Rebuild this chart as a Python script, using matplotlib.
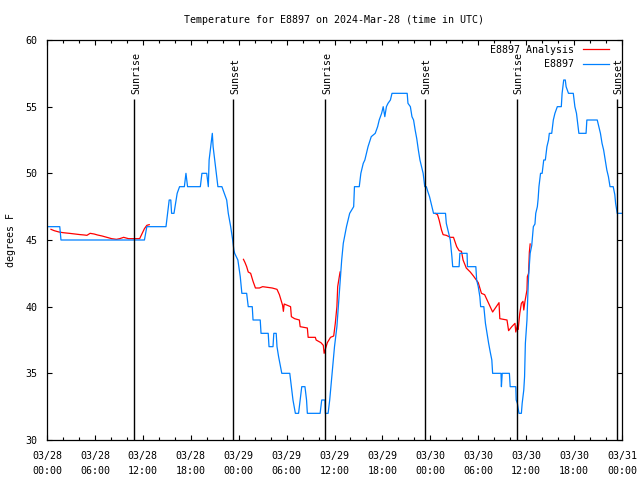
import matplotlib
matplotlib.use('Agg')
import matplotlib.pyplot as plt

# Du lieu doc tu anh (gio ke tu 03/28 00:00 UTC)
obs_hours = [0.15, 1.6, 1.75, 12.2, 12.5, 14.9, 15.1, 15.3, 15.5, 15.6, 15.9, 16.1, 16.3, 16.6, 17.2, 17.4, 17.6,
             19.2, 19.4, 20.0, 20.2, 20.3, 20.5, 20.7, 20.8, 21.0, 21.2, 21.4, 21.9, 22.2, 22.5, 22.7, 23.0, 23.25,
             23.4, 23.5, 23.9, 24.2, 24.4, 25.0, 25.2, 25.7, 25.8, 26.7, 26.8, 27.7, 27.8, 28.3, 28.4, 28.7, 28.8,
             29.0, 29.4, 30.4, 30.6, 30.8, 31.1, 31.5, 31.7, 31.9, 32.3, 32.5, 32.6, 34.2, 34.4, 34.8, 34.85, 35.2,
             35.4, 35.7, 36.0, 36.3, 36.6, 36.9, 37.1, 37.5, 37.9, 38.4, 38.5, 39.1, 39.3, 39.6, 39.8, 40.2, 40.6,
             41.1, 41.4, 41.6, 41.9, 42.1, 42.3, 42.5, 42.7, 43.0, 43.2, 45.1, 45.2, 45.5, 45.7, 45.9, 46.1, 46.3,
             46.5, 46.7, 47.1, 47.3, 47.5, 47.7, 47.9, 48.1, 48.4, 49.9, 50.0, 50.2, 50.5, 50.7, 50.8, 51.6, 51.7,
             52.6, 52.65, 53.7, 53.8, 54.0, 54.2, 54.3, 54.7, 54.9, 55.1, 55.3, 55.5, 55.7, 55.8, 56.85, 56.9, 57.0,
             57.9, 58.0, 58.7, 58.75, 58.9, 59.1, 59.4, 59.5, 59.7, 59.8, 59.9, 60.1, 60.2, 60.3, 60.5, 60.7, 60.9,
             61.1, 61.2, 61.4, 61.5, 61.6, 61.8, 62.0, 62.2, 62.4, 62.6, 62.8, 62.9, 63.2, 63.4, 63.6, 63.9, 64.4,
             64.5, 64.7, 64.9, 65.0, 65.3, 65.9, 66.1, 66.3, 66.5, 66.6, 67.5, 67.6, 68.9, 69.1, 69.3, 69.5, 69.7,
             69.9, 70.1, 70.3, 70.5, 70.9, 71.1, 71.2, 71.4, 72.0]
obs_temps = [46, 46, 45, 45, 46, 46, 47, 48, 48, 47, 47, 47.75, 48.5, 49, 49, 50, 49,
             49, 50, 50, 49, 51, 52, 53, 52, 51, 50, 49, 49, 48.5, 48, 47, 46, 45,
             44.25, 44, 43.5, 42.25, 41, 41, 40, 40, 39, 39, 38, 38, 37, 37, 38, 38, 37,
             36.25, 35, 35, 34, 33, 32, 32, 33, 34, 34, 33, 32, 32, 33, 33, 32, 32,
             33, 35, 37, 38.5, 41, 43.5, 44.75, 46, 47, 47.5, 49, 49, 50, 50.75, 51, 52, 52.75,
             53, 53.5, 54, 54.5, 55, 54.25, 55, 55.25, 55.5, 56, 56, 55.25, 55, 54.25, 54, 53.25, 52.6,
             51.75, 51, 50, 49, 49, 48.6, 48.25, 47.75, 47, 47, 46.25, 45.75, 45, 43.75, 43, 43, 44,
             44, 43, 43, 42, 41.5, 40.75, 40, 40, 38.75, 38, 37.25, 36.6, 36, 35, 35, 34, 35,
             35, 34, 34, 33, 32.75, 32, 32, 32.75, 33.75, 34.75, 37.25, 39, 40.75, 42.25, 44, 44.6, 46,
             46.2, 47, 47.5, 48.1, 49, 50, 50, 51, 51, 52, 52.5, 53, 53, 54, 54.5, 55, 55,
             56, 57, 57, 56.5, 56, 56, 55, 54.5, 53.5, 53, 53, 54, 54, 53.5, 53, 52.25, 51.75,
             51, 50.25, 49.75, 49, 49, 48.4, 47.75, 47, 47]

ana1_hours = [0.5, 0.9, 1.5, 2.0, 2.8, 3.5, 4.2, 4.6, 5.0, 5.4, 5.9, 6.3, 6.9, 7.5, 8.1, 8.7, 9.1, 9.6,
              10.2, 11.0, 11.6, 11.8, 12.0, 12.2, 12.5, 12.8]
ana1_temps = [45.8, 45.7, 45.6, 45.55, 45.5, 45.45, 45.4, 45.38, 45.35, 45.5, 45.45, 45.38, 45.3, 45.2,
              45.1, 45.05, 45.1, 45.2, 45.1, 45.1, 45.1, 45.35, 45.6, 45.85, 46.1, 46.15]
ana2_hours = [24.6, 24.8, 25.0, 25.2, 25.5, 25.8, 26.1, 26.6, 27.0, 27.6, 28.2, 28.8, 29.1, 29.5, 29.6,
              29.7, 30.5, 30.6, 31.0, 31.6, 31.7, 32.6, 32.7, 33.6, 33.7, 34.3, 34.6, 34.7, 34.9, 35.1,
              35.5, 35.9, 36.1, 36.3, 36.4, 36.6, 36.7]
ana2_temps = [43.55, 43.3, 43.0, 42.6, 42.5, 41.9, 41.4, 41.4, 41.5, 41.45, 41.4, 41.3, 40.9, 40.1, 39.65,
              40.2, 40.0, 39.25, 39.1, 39.0, 38.5, 38.4, 37.7, 37.7, 37.5, 37.3, 37.1, 36.5, 36.9, 37.3,
              37.7, 37.8, 38.75, 40.0, 41.5, 42.25, 42.6]
ana3_hours = [48.6, 48.9, 49.1, 49.4, 49.6, 50.0, 50.5, 50.9, 51.3, 51.6, 51.9, 52.1, 52.5, 53.0, 53.4,
              53.7, 54.0, 54.4, 54.8, 55.3, 55.8, 56.6, 56.7, 57.6, 57.8, 58.2, 58.6, 58.7, 58.9, 59.0,
              59.2, 59.4, 59.6, 59.7, 59.85, 60.1, 60.15, 60.3, 60.4, 60.5]
ana3_temps = [47.0, 46.9, 46.5, 45.75, 45.4, 45.35, 45.2, 45.2, 44.5, 44.2, 44.15, 43.5, 42.9, 42.6, 42.3,
              42.05, 41.8, 41.0, 40.9, 40.25, 39.6, 40.3, 39.1, 39.0, 38.2, 38.5, 38.75, 38.1, 38.6, 38.3,
              39.5, 40.25, 40.4, 39.75, 40.4, 41.25, 42.25, 42.5, 44.1, 44.7]

sun_hours = [10.9, 23.3, 34.8, 47.3, 58.8, 71.35]
sun_labels = ['Sunrise', 'Sunset', 'Sunrise', 'Sunset', 'Sunrise', 'Sunset']

tick_hours = list(range(0, 73, 6))
tick_labels = ['03/28\n00:00', '03/28\n06:00', '03/28\n12:00', '03/28\n18:00',
               '03/29\n00:00', '03/29\n06:00', '03/29\n12:00', '03/29\n18:00',
               '03/30\n00:00', '03/30\n06:00', '03/30\n12:00', '03/30\n18:00', '03/31\n00:00']

fs = 7.2
plt.rcParams['font.family'] = ['DejaVu Sans Mono']
plt.rcParams['font.size'] = fs

fig = plt.figure(figsize=(6.4, 4.8), dpi=100)
ax = fig.add_axes([47 / 640, 40 / 480, 575 / 640, 400 / 480])

red = '#ff0000'
blue = '#0080ff'
ax.plot(ana1_hours, ana1_temps, color=red, lw=0.9, label='E8897 Analysis')
ax.plot(ana2_hours, ana2_temps, color=red, lw=0.9)
ax.plot(ana3_hours, ana3_temps, color=red, lw=0.9)
ax.plot(obs_hours, obs_temps, color=blue, lw=0.9, label='E8897')

# Duong mat troi moc / lan
for h, lab in zip(sun_hours, sun_labels):
    ax.vlines(h, 30, 55.6, color='black', lw=1.0)
    ax.text(h + 0.25, 55.95, lab, rotation=90, ha='center', va='bottom', fontsize=fs)

ax.set_xlim(0, 72)
ax.set_ylim(30, 60)
ax.set_xticks(tick_hours)
ax.set_xticklabels(tick_labels, linespacing=1.55)
ax.set_xticks(range(0, 73, 2), minor=True)
ax.set_yticks(range(30, 61, 5))
ax.tick_params(which='both', direction='in', top=True, right=True, width=0.8)
ax.tick_params(which='major', length=3.5)
ax.tick_params(which='minor', length=2)
ax.tick_params(axis='x', pad=8)
ax.tick_params(axis='y', pad=7)
for s in ax.spines.values():
    s.set_linewidth(0.9)

ax.set_ylabel('degrees F', labelpad=7)
fig.text(334 / 640, 1 - 20 / 480, 'Temperature for E8897 on 2024-Mar-28 (time in UTC)',
         ha='center', va='center', fontsize=fs)

ax.legend(loc='upper right', bbox_to_anchor=(1.0, 1.0 + 8 / 400), frameon=False, markerfirst=False,
          handlelength=2.6, borderaxespad=0.9, labelspacing=0.45, handletextpad=0.9, fontsize=fs)

fig.savefig('out.png', dpi=100)
